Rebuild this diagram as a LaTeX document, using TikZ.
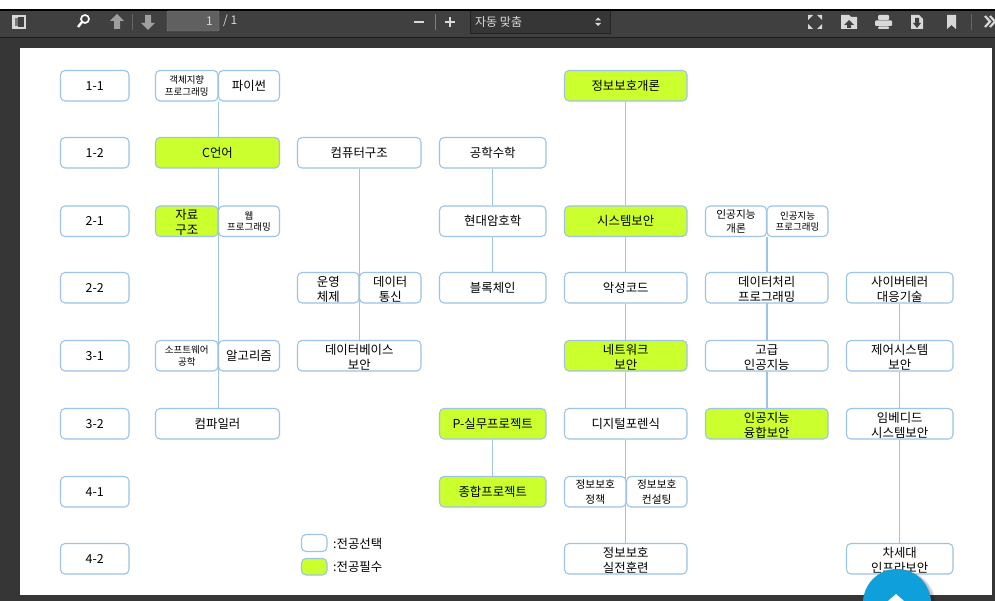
\documentclass[tikz,border=0pt]{standalone}
\usepackage{fontspec}
\setmainfont{Noto Sans CJK KR}
\usetikzlibrary{backgrounds}
\definecolor{edgeblue}{HTML}{9DC3E6}
\definecolor{lime}{HTML}{CCFF2E}
\definecolor{barc}{HTML}{404040}
\definecolor{deskc}{HTML}{363636}
\definecolor{iconc}{HTML}{D8D8D8}
\definecolor{fabc}{HTML}{0FA0DC}
\tikzset{
  course/.style={draw=edgeblue,line width=1.1pt,fill=white,rounded corners=4.5pt,inner sep=0pt,align=center,text=black,font=\fontsize{12.4}{15}\selectfont},
  must/.style={course,fill=lime},
  tiny/.style={font=\fontsize{9.5}{11.5}\selectfont},
  small/.style={font=\fontsize{10.7}{14.5}\selectfont},
  link/.style={draw=edgeblue,line width=1.2pt},
  icon/.style={fill=iconc,draw=none},
  bartext/.style={text=iconc,inner sep=0pt,font=\fontsize{12}{14}\selectfont},
  legendtext/.style={text=black,inner sep=0pt,anchor=west,font=\fontsize{12.4}{14}\selectfont},
}
\newcommand{\tw}{\rule{0pt}{13pt}}
\newcommand{\bx}[6][course]{%
  \pgfmathsetmacro{\cxv}{(#3+#5)/2}\pgfmathsetmacro{\cyv}{(#4+#6)/2}%
  \pgfmathsetmacro{\wv}{#5-#3}\pgfmathsetmacro{\hv}{#6-#4}%
  \node[#1,minimum width=\wv pt,minimum height=\hv pt] (#2) at (\cxv,\cyv)}
\begin{document}
\begin{tikzpicture}[x=1pt,y=-1pt]
\useasboundingbox (0,0) rectangle (995,601);
\begin{scope}[on background layer]
\fill[white] (0,0) rectangle (995,9);
\fill[black] (0,9) rectangle (995,11);
\fill[deskc] (0,37) rectangle (995,601);
\fill[barc] (0,11) rectangle (995,37);
\draw[black!55!barc] (0,37.5) -- (995,37.5);
\fill[white] (20,48) rectangle (992,595);
\end{scope}
% toolbar
\draw[iconc,line width=1.5pt] (13,16) rectangle (25,28);
\fill[iconc] (13,16) rectangle (18,28);
\fill[barc!70!white] (14.5,18) rectangle (17.5,26.5);
\draw[white,line width=1.7pt] (85,19) circle (4);
\draw[white,line width=2.4pt] (82,22) -- (78,27);
\fill[gray!75] (117,14) -- (124,21) -- (120,21) -- (120,29) -- (114,29) -- (114,21) -- (110,21) -- cycle;
\draw[black!60] (132.5,14) -- (132.5,30);
\fill[gray!75] (148,30) -- (155,23) -- (151,23) -- (151,15) -- (145,15) -- (145,23) -- (141,23) -- cycle;
\fill[gray!50!barc,draw=black!50,rounded corners=1pt] (167,11) rectangle (219,31);
\node[bartext,anchor=east] (pagenum) at (213,21) {1};
\node[bartext,anchor=west] (pagetotal) at (223,21) {/ 1};
\fill[iconc] (414,20.7) rectangle (424,23.3);
\fill[iconc] (445,20.7) rectangle (455,23.3);
\fill[iconc] (448.7,17) rectangle (451.3,27);
\draw[black!50] (435.5,14) -- (435.5,30);
\fill[black!15!barc] (470,11) rectangle (610,33.5);
\draw[black!45!barc] (470,11) -- (470,33.5) -- (610,33.5) -- (610,11);
\node[bartext,anchor=west] (zoomsel) at (475,21.5) {자동 맞춤};
\fill[iconc] (598,17.5) -- (601,20.5) -- (595,20.5) -- cycle (598,26) -- (601,23) -- (595,23) -- cycle;
% fullscreen
\fill[iconc] (808,15) -- (813,15) -- (808,20) -- cycle (822,15) -- (817,15) -- (822,20) -- cycle (808,29) -- (813,29) -- (808,24) -- cycle (822,29) -- (817,29) -- (822,24) -- cycle;
% folder
\fill[iconc] (841,17) -- (841,15) -- (849,15) -- (851,17) -- (857,17) -- (857,29) -- (841,29) -- cycle;
\fill[barc] (849,20) -- (854,25) -- (851,25) -- (851,28) -- (847,28) -- (847,25) -- (844,25) -- cycle;
% printer
\fill[iconc,rounded corners=1pt] (878,15) rectangle (889,20) (875,20.5) rectangle (892,26) (878,26.5) rectangle (889,29);
% download
\fill[iconc] (911,15) -- (919,15) -- (923,19) -- (923,29) -- (911,29) -- cycle;
\fill[barc] (917,28) -- (921,23) -- (919,23) -- (919,18) -- (915,18) -- (915,23) -- (913,23) -- cycle;
% bookmark
\fill[iconc] (947,15) -- (956,15) -- (956,29) -- (951.5,25) -- (947,29) -- cycle;
\draw[black!60] (971.5,14) -- (971.5,30);
\draw[iconc,line width=2.2pt] (985,16) -- (990,21.5) -- (985,27) (990,16) -- (995,21.5) -- (990,27);
% term labels
\bx{t11}{60.5}{70.5}{129}{101}{1-1};
\bx{t12}{60.5}{137.5}{129}{168}{1-2};
\bx{t21}{60.5}{206}{129}{236.5}{2-1};
\bx{t22}{60.5}{272.5}{129}{303}{2-2};
\bx{t31}{60.5}{340.5}{129}{371}{3-1};
\bx{t32}{60.5}{408.5}{129}{439}{3-2};
\bx{t41}{60.5}{476.5}{129}{507}{4-1};
\bx{t42}{60.5}{543.5}{129}{574}{4-2};
% column A
\bx[course,tiny]{oop}{155.5}{70.5}{218}{101}{객체지향\\프로그래밍};
\bx{python}{218.5}{70.5}{279.5}{101}{파이썬};
\bx[must]{clang}{155.5}{137.5}{279.5}{168}{C언어};
\bx[must]{ds}{155.5}{206}{218}{236.5}{\tw 자료\\구조};
\bx[course,tiny]{web}{218.5}{206}{279.5}{236.5}{웹\\프로그래밍};
\bx[course,tiny]{swe}{155.5}{340.5}{218}{371}{소프트웨어\\공학};
\bx{algo}{218.5}{340.5}{279.5}{371}{알고리즘};
\bx{compiler}{155.5}{408.5}{279.5}{439}{컴파일러};
% column B
\bx{arch}{297.5}{137.5}{421}{168}{컴퓨터구조};
\bx{os}{297.5}{272.5}{359}{303}{\tw 운영\\체제};
\bx{net}{359.5}{272.5}{421}{303}{\tw 데이터\\통신};
\bx{db}{297.5}{340.5}{421}{371}{\tw 데이터베이스\\보안};
% column C
\bx{math}{439.5}{137.5}{546}{168}{공학수학};
\bx{crypto}{439.5}{206}{546}{236.5}{현대암호학};
\bx{chain}{439.5}{272.5}{546}{303}{블록체인};
\bx[must]{pproj}{439.5}{408.5}{546}{439}{P-실무프로젝트};
\bx[must]{cap}{439.5}{476.5}{546}{507}{종합프로젝트};
% column D
\bx[must]{intro}{564.5}{70.5}{687}{101}{정보보호개론};
\bx[must]{sys}{564.5}{206}{687}{236.5}{시스템보안};
\bx{mal}{564.5}{272.5}{687}{303}{악성코드};
\bx[must]{netsec}{564.5}{340.5}{687}{371}{\tw 네트워크\\보안};
\bx{forensic}{564.5}{408.5}{687}{439}{디지털포렌식};
\bx[course,small]{policy}{564.5}{476.5}{626}{507}{정보보호\\정책};
\bx[course,small]{consult}{626.5}{476.5}{687}{507}{정보보호\\컨설팅};
\bx{drill}{564.5}{543.5}{687}{574}{\tw 정보보호\\실전훈련};
% column E
\bx[course,small]{aiintro}{705.5}{206}{766.5}{236.5}{인공지능\\개론};
\bx[course,tiny]{aiprog}{767}{206}{828}{236.5}{인공지능\\프로그래밍};
\bx{dataprog}{705.5}{272.5}{828}{303}{\tw 데이터처리\\프로그래밍};
\bx{advai}{705.5}{340.5}{828}{371}{\tw 고급\\인공지능};
\bx[must]{aisec}{705.5}{408.5}{828}{439}{\tw 인공지능\\융합보안};
% column F
\bx{cyber}{846.5}{272.5}{953}{303}{\tw 사이버테러\\대응기술};
\bx{ctrl}{846.5}{340.5}{953}{371}{\tw 제어시스템\\보안};
\bx{embed}{846.5}{408.5}{953}{439}{\tw 임베디드\\시스템보안};
\bx{infra}{846.5}{543.5}{953}{574}{\tw 차세대\\인프라보안};
% legend
\bx{legopt}{301.5}{534.5}{327}{551.5}{};
\bx[must]{legreq}{301.5}{558.5}{327}{575}{};
\node[legendtext] (legopttxt) at (333,543.5) {:전공선택};
\node[legendtext] (legreqtxt) at (333,566.5) {:전공필수};
% connectors
\begin{scope}[on background layer]
\draw[link] (oop.south east) -- (oop.south east |- compiler.north);
\draw[link] (arch.south) -- (db.north);
\draw[link] (math.south) -- (crypto.north);
\draw[link] (crypto.south) -- (chain.north);
\draw[link] (pproj.south) -- (cap.north);
\draw[link] (intro.south) -- (sys.north);
\draw[link] (sys.south) -- (mal.north);
\draw[link] (mal.south) -- (netsec.north);
\draw[link] (netsec.south) -- (forensic.north);
\draw[link] (forensic.south) -- (drill.north);
\draw[link] (aiintro.south east) -- (aiintro.south east |- aisec.north);
\draw[link] (cyber.south) -- (ctrl.north);
\draw[link] (ctrl.south) -- (embed.north);
\draw[link] (embed.south) -- (infra.north);
\end{scope}
% scroll-to-top button
\begin{scope}
\clip (0,0) rectangle (995,601);
\fill[black,opacity=.12] (900,606) circle (36);
\fill[black,opacity=.12] (899,605) circle (35);
\fill[fabc] (897,603) circle (34);
\fill[white] (896,594) -- (904,601) -- (888,601) -- cycle;
\end{scope}
\end{tikzpicture}
\end{document}
